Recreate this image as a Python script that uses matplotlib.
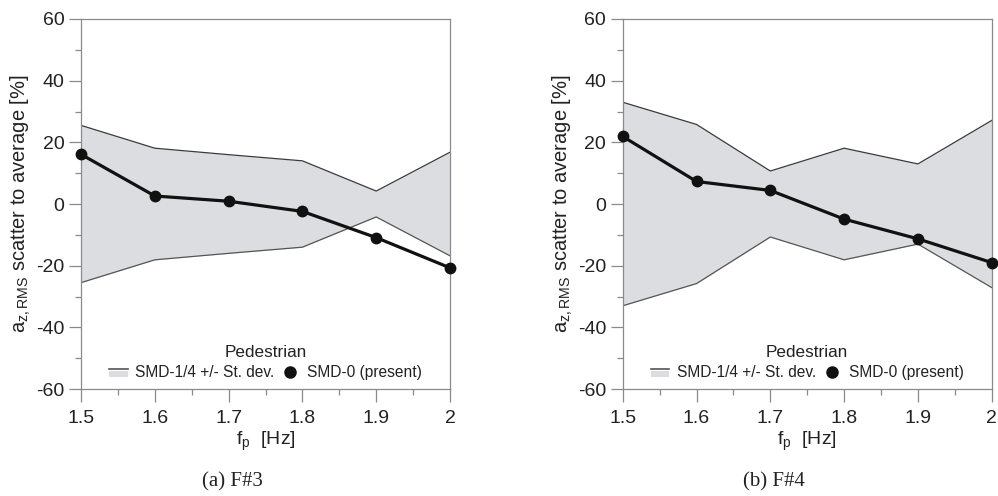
import matplotlib
matplotlib.use("Agg")
import matplotlib.pyplot as plt
from matplotlib.legend_handler import HandlerBase
from matplotlib.patches import Rectangle
from matplotlib.lines import Line2D
from matplotlib.ticker import MultipleLocator

plt.rcParams['font.family'] = ['Liberation Sans', 'DejaVu Sans']
plt.rcParams['mathtext.fontset'] = 'custom'
plt.rcParams['mathtext.rm'] = 'Liberation Sans'
plt.rcParams['mathtext.it'] = 'Liberation Sans'
plt.rcParams['axes.unicode_minus'] = False

# pedestrian step frequency
freq = [1.5, 1.6, 1.7, 1.8, 1.9, 2.0]

# F#3: SMD-1/4 standard deviation band and SMD-0 scatter
f3_std = [25.5, 18.1, 16.0, 14.0, 4.2, 16.8]
f3_smd0 = [16.1, 2.6, 0.9, -2.4, -10.9, -20.7]

# F#4
f4_std = [33.0, 25.8, 10.7, 18.1, 13.0, 27.1]
f4_smd0 = [21.9, 7.3, 4.4, -4.9, -11.3, -19.0]

captions = ['(a) F#3', '(b) F#4']

band_fill = '#dcdde0'
band_edge = '#3a3a3a'
spine_col = '#8a8a8a'
text_col = '#222222'


class BandHandler(HandlerBase):
    # grey box with the band edge line drawn on its top
    def create_artists(self, legend, orig_handle, xd, yd, w, h, fontsize, trans):
        box = Rectangle((xd, yd), w, h * 0.55, facecolor=band_fill,
                        edgecolor='none', transform=trans)
        top = Line2D([xd, xd + w], [yd + h * 0.75, yd + h * 0.75],
                     color='#555555', lw=1.2, transform=trans)
        return [box, top]


fig = plt.figure(figsize=(9.98, 4.96), dpi=100)
axes = [fig.add_axes([0.0812, 0.2157, 0.3697, 0.746]),
        fig.add_axes([0.624, 0.2157, 0.3697, 0.746])]

for ax, std, smd0, cap in zip(axes, [f3_std, f4_std], [f3_smd0, f4_smd0], captions):
    upper = [s for s in std]
    lower = [-s for s in std]
    ax.fill_between(freq, lower, upper, color=band_fill, lw=0, zorder=1)
    ax.plot(freq, upper, color=band_edge, lw=0.9, zorder=2)
    ax.plot(freq, lower, color='#555555', lw=0.9, zorder=2)
    ax.plot(freq, smd0, color='#111111', lw=2.3, marker='o', ms=7.5,
            clip_on=False, zorder=3)

    ax.set_xlim(1.5, 2.0)
    ax.set_ylim(-60, 60)
    ax.xaxis.set_major_locator(MultipleLocator(0.1))
    ax.xaxis.set_minor_locator(MultipleLocator(0.05))
    ax.yaxis.set_major_locator(MultipleLocator(20))
    ax.yaxis.set_minor_locator(MultipleLocator(10))
    ax.set_xticks(freq)
    ax.set_xticklabels(['1.5', '1.6', '1.7', '1.8', '1.9', '2'])

    for sp in ax.spines.values():
        sp.set_color(spine_col)
        sp.set_linewidth(0.9)
    ax.tick_params(which='major', direction='out', length=9, width=0.9,
                   color=spine_col, labelsize=14, labelcolor=text_col, pad=3)
    ax.tick_params(which='minor', direction='out', length=4.5, width=0.9,
                   color=spine_col)
    ax.tick_params(axis='x', which='major', pad=6)

    ax.set_xlabel(r'f$_\mathrm{p}$  [Hz]', fontsize=14, color=text_col, labelpad=2)
    ax.set_ylabel(r'a$_\mathrm{z,RMS}$ scatter to average [%]', fontsize=14.5,
                  color=text_col, labelpad=2)

    band_key = Rectangle((0, 0), 1, 1)
    dot_key = Line2D([], [], color='#111111', marker='o', ms=8, lw=0)
    leg = ax.legend([band_key, dot_key], ['SMD-1/4 +/- St. dev.', 'SMD-0 (present)'],
                    handler_map={Rectangle: BandHandler()}, title='Pedestrian',
                    ncol=2, loc='lower center', bbox_to_anchor=(0.5, -0.005),
                    frameon=False, fontsize=11.2, title_fontsize=12.3,
                    handlelength=1.2, handletextpad=0.5, columnspacing=0.4,
                    labelspacing=0.3, borderaxespad=0.3)
    for t in leg.get_texts():
        t.set_color(text_col)
    leg.get_title().set_color(text_col)

    bb = ax.get_position()
    fig.text(bb.x0 + bb.width * 0.41, 0.028, cap, ha='center', va='center',
             fontsize=15, family='Liberation Serif', color=text_col)

fig.savefig('out.png', dpi=100)
